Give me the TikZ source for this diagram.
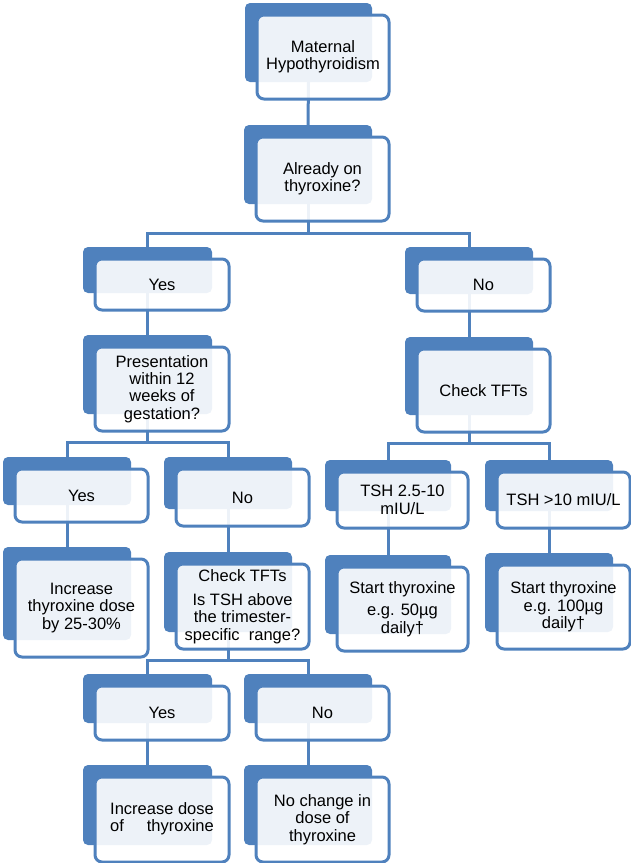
\documentclass[tikz,border=0pt]{standalone}
\usepackage{fontspec}
\setmainfont{Liberation Sans}
\usetikzlibrary{fit,backgrounds}
\definecolor{boxblue}{HTML}{4F81BD}
\tikzset{
  backbox/.style={rectangle, rounded corners=5pt, fill=boxblue, inner sep=0pt},
  frontbox/.style={rectangle, rounded corners=7pt, draw=boxblue, line width=3pt,
    fill=white, fill opacity=0.9, inner sep=0pt},
  boxtext/.style={inner sep=0pt, align=center},
  link/.style={draw=boxblue, line width=3pt}
}
\newcommand\tbox[6]{%
  \node[backbox, fit={(#2,#3)(#4,#5)}] (#1b) {};
  \node[frontbox, fit={({#2+12},{#3+12})({#4+17},{#5+17})}] (#1) {};
  \node[boxtext] (#1t) at (#1.center) {#6};
}
\begin{document}
\begin{tikzpicture}[x=1pt,y=-1pt,font=\fontsize{16.5}{17.4}\selectfont]
\useasboundingbox (0,0) rectangle (631,863);
\tbox{m}{245}{3}{372}{82}{Maternal\\Hypothyroidism}
\tbox{a}{244}{125}{372}{204}{Already on\\thyroxine?}
\tbox{ya}{83}{247}{212}{293}{Yes}
\tbox{na}{405}{247}{533}{294}{No}
\tbox{p}{83}{335}{212}{414}{Presentation\\within 12\\weeks of\\gestation?}
\tbox{ca}{405}{337}{533}{415}{Check TFTs}
\tbox{yb}{3}{457}{131}{505}{Yes}
\tbox{nb}{164}{457}{292}{509}{No}
\tbox{ta}{325}{460}{451}{511}{TSH 2.5-10\\mIU/L}
\tbox{tb}{485}{460}{613}{511}{TSH >10 mIU/L}
\tbox{ia}{3}{547}{131}{640}{Increase\\thyroxine dose\\by 25-30\%}
\tbox{cb}{164}{552}{292}{632}{Check TFTs\\[7pt]Is TSH above\\the trimester-\\specific\ \ range?}
\tbox{sa}{325}{555}{451}{634}{Start thyroxine\\[5pt]e.g. 50µg\\daily†}
\tbox{sb}{485}{553}{613}{632}{Start thyroxine\\e.g. 100µg\\daily†}
\tbox{yc}{83}{674}{212}{723}{Yes}
\tbox{nc}{244}{674}{372}{723}{No}
\tbox{ib}{83}{765}{212}{845}{\begin{tabular}{@{}c@{}}Increase dose\\of\hfill thyroxine\end{tabular}}
\tbox{nd}{244}{765}{372}{845}{No change in\\dose of\\thyroxine}
\coordinate (busa) at (0,233);
\coordinate (busb) at (0,442);
\coordinate (busc) at (0,443);
\coordinate (busd) at (0,660);
\coordinate (ja) at (ab.south |- busa);
\coordinate (jb) at (pb.south |- busb);
\coordinate (jc) at (cab.south |- busc);
\coordinate (jd) at (cbb.south |- busd);
\begin{pgfonlayer}{background}
\draw[link] (mb.south) -- (ab.north);
\draw[link] (ab.south) -- (ja);
\draw[link] (yab.north) |- (ja) -| (nab.north);
\draw[link] (yab.south) -- (pb.north);
\draw[link] (nab.south) -- (cab.north);
\draw[link] (pb.south) -- (jb);
\draw[link] (ybb.north) |- (jb) -| (nbb.north);
\draw[link] (cab.south) -- (jc);
\draw[link] (tab.north) |- (jc) -| (tbb.north);
\draw[link] (ybb.south) -- (iab.north);
\draw[link] (nbb.south) -- (cbb.north);
\draw[link] (tab.south) -- (sab.north);
\draw[link] (tbb.south) -- (sbb.north);
\draw[link] (cbb.south) -- (jd);
\draw[link] (ycb.north) |- (jd) -| (ncb.north);
\draw[link] (ycb.south) -- (ibb.north);
\draw[link] (ncb.south) -- (ndb.north);
\end{pgfonlayer}
\end{tikzpicture}
\end{document}
